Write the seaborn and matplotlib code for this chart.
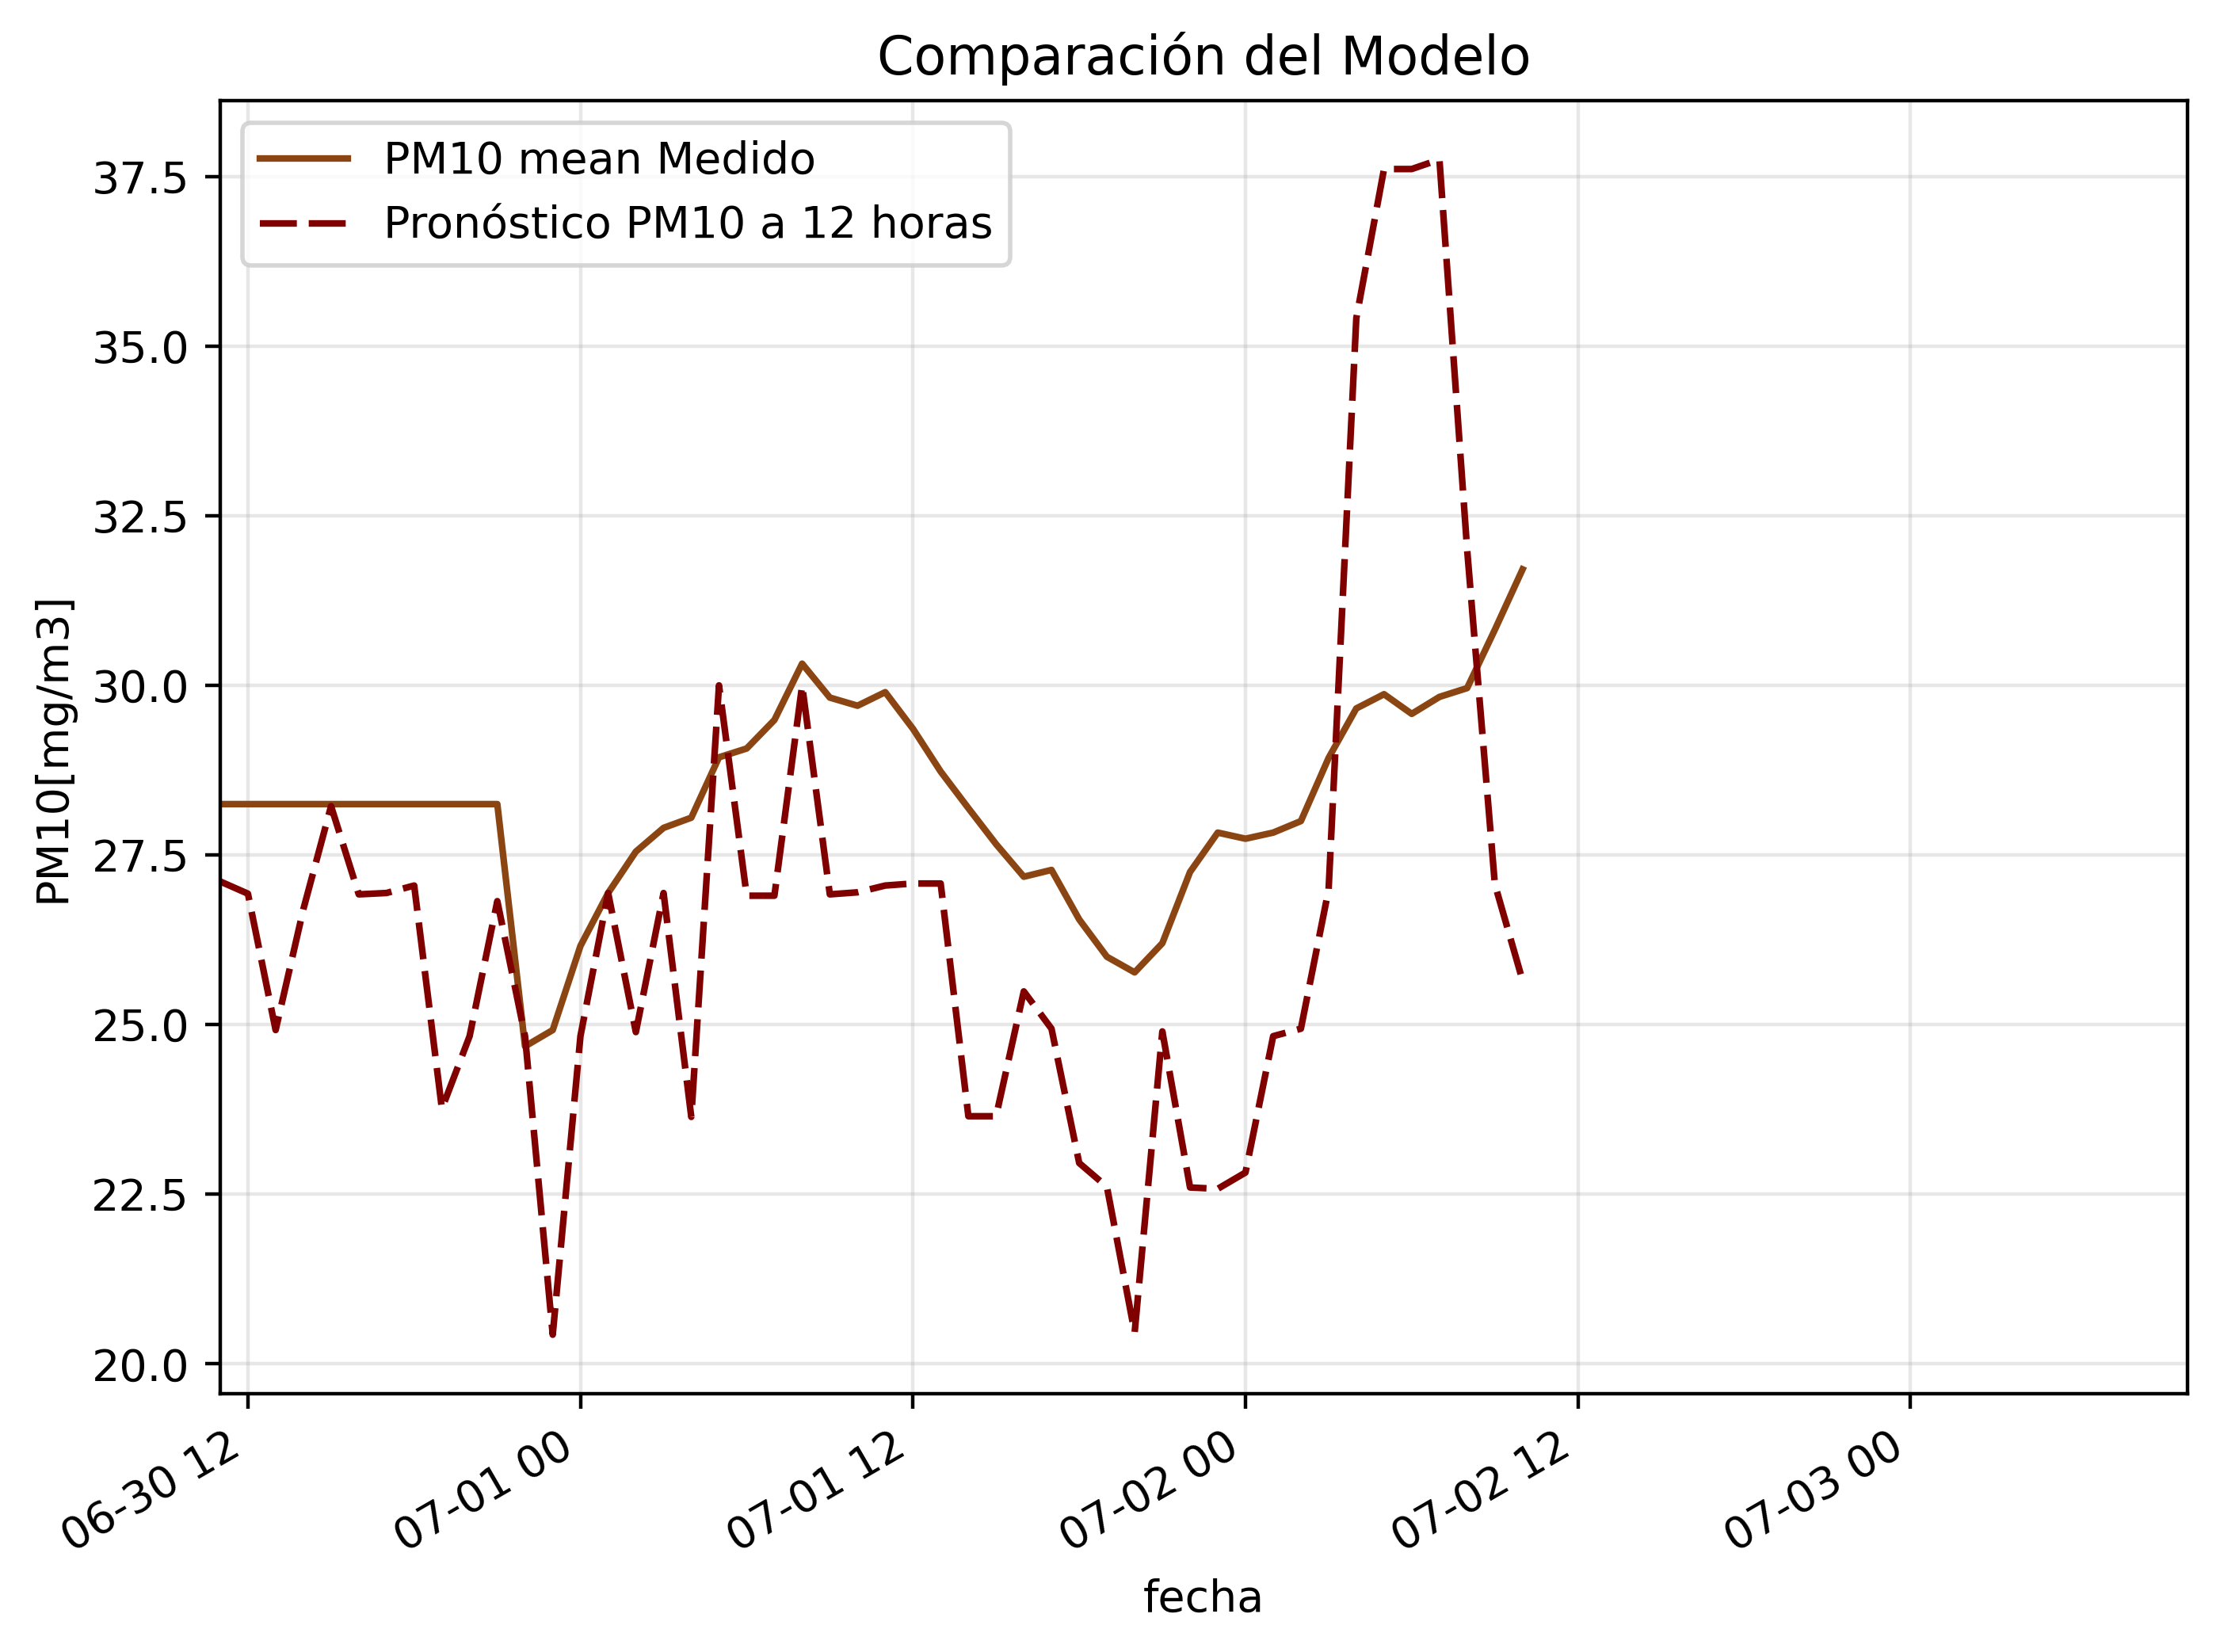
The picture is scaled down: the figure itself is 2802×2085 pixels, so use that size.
import pandas as pd
import seaborn as sns
import matplotlib
matplotlib.use("Agg")
import matplotlib.pyplot as plt
import matplotlib.dates as mdates

# hourly values, 2023-06-30 11:00 .. 2023-07-02 10:00
start_time = "2023-06-30 11:00"
n_hours = 48

pm10_medido = [
    28.25, 28.25, 28.25, 28.25, 28.25, 28.25, 28.25, 28.25, 28.25, 28.25, 28.25,
    24.68, 24.92,
    26.16, 26.94, 27.55, 27.90, 28.05, 28.94, 29.07, 29.49, 30.32, 29.82, 29.70, 29.90,
    29.36, 28.73, 28.19, 27.66, 27.18, 27.28, 26.55, 26.00, 25.77, 26.20, 27.25, 27.83,
    27.74, 27.83, 28.00, 28.93, 29.66, 29.87, 29.58, 29.83, 29.96, 30.82, 31.71,
]

pm10_pronostico = [
    27.11, 26.93, 24.92, 26.70, 28.22, 26.92, 26.94, 27.05, 23.76, 24.83, 26.82,
    24.83, 20.43,
    24.83, 26.94, 24.89, 26.94, 23.64, 30.00, 26.90, 26.90, 30.00, 26.92, 26.95, 27.05,
    27.08, 27.08, 23.65, 23.65, 25.49, 24.94, 22.96, 22.61, 20.46, 24.90, 22.60, 22.58,
    22.82, 24.83, 24.94, 26.99, 35.41, 37.61, 37.61, 37.75, 32.00, 27.07, 25.65,
]

fechas = pd.date_range(start_time, periods=n_hours, freq="h")
df = pd.DataFrame({"fecha": fechas,
                   "medido": pm10_medido,
                   "pronostico": pm10_pronostico})

fig = plt.figure(figsize=(2802 / 400, 2085 / 400), dpi=400)
ax = fig.add_axes([0.0992, 0.1565, 0.8862, 0.7825])

sns.lineplot(data=df, x="fecha", y="medido", color="#8B4513", linewidth=1.5,
             label="PM10 mean Medido", ax=ax)
sns.lineplot(data=df, x="fecha", y="pronostico", color="#800000", linewidth=1.5,
             linestyle=(0, (5.6, 1.8)), label="Pronóstico PM10 a 12 horas", ax=ax)

ax.set_xlim(pd.Timestamp("2023-06-30 11:00"), pd.Timestamp("2023-07-03 10:00"))
ax.xaxis.set_major_locator(mdates.HourLocator(byhour=[0, 12]))
ax.xaxis.set_major_formatter(mdates.DateFormatter("%m-%d %H"))
plt.setp(ax.get_xticklabels(), rotation=30, ha="right")

ax.grid(True, alpha=0.3)
ax.set_title("Comparación del Modelo")
ax.set_xlabel("fecha")
ax.set_ylabel("PM10[mg/m3]")
ax.legend(loc="upper left")

fig.savefig("out.png", dpi=400)
